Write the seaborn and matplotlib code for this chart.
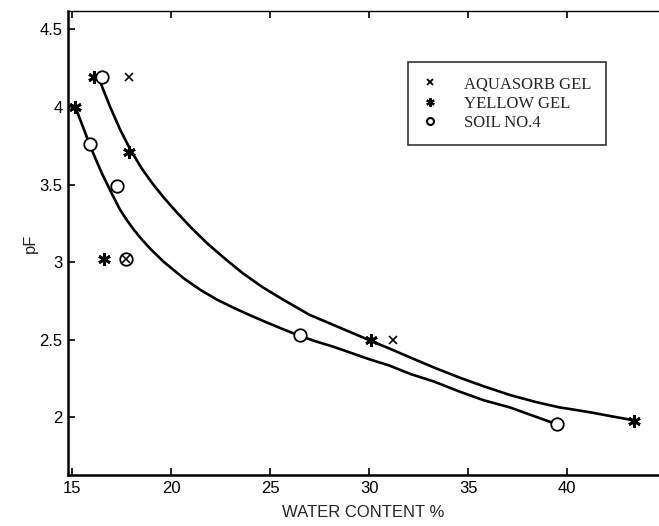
import matplotlib
matplotlib.use("Agg")
import matplotlib.pyplot as plt
import seaborn as sns
import pandas as pd
from matplotlib.lines import Line2D

# ---- data ----
aqua_x = [17.85, 17.7, 31.2]
aqua_y = [4.19, 3.02, 2.50]
yellow_x = [15.15, 16.1, 17.85, 16.6, 30.1, 43.4]
yellow_y = [4.00, 4.19, 3.71, 3.02, 2.50, 1.98]
soil_x = [16.5, 15.9, 17.25, 17.7, 26.5, 39.5]
soil_y = [4.19, 3.76, 3.49, 3.02, 2.53, 1.955]

# fitted curves
upper_x = [16.41, 16.9, 17.4, 17.93, 18.5, 19.0, 19.6, 20.3, 21.0, 21.8, 22.7, 23.6,
           24.6, 25.7, 27.0, 28.3, 29.5, 30.15, 31.0, 32.1, 33.3, 34.6, 35.8, 37.1,
           38.4, 39.6, 40.5, 41.3, 42.3, 43.3]
upper_y = [4.16, 4.003, 3.858, 3.725, 3.605, 3.515, 3.419, 3.318, 3.223, 3.123, 3.024, 2.93,
           2.84, 2.755, 2.66, 2.59, 2.525, 2.49, 2.445, 2.385, 2.32, 2.255, 2.20, 2.145,
           2.10, 2.065, 2.047, 2.030, 2.006, 1.983]
lower_x = [15.15, 15.48, 15.99, 16.5, 17.0, 17.4, 17.76, 18.1, 18.52, 18.95, 19.6,
           20.64, 21.5, 22.32, 23.2, 24.0, 24.8, 25.69, 26.53, 27.3, 28.2, 29.1, 30.0,
           31.0, 32.08, 33.3, 34.6, 35.8, 37.1, 38.3, 39.5]
lower_y = [4.00, 3.89, 3.72, 3.57, 3.44, 3.34, 3.27, 3.21, 3.145, 3.085, 3.004,
           2.895, 2.819, 2.758, 2.703, 2.657, 2.613, 2.566, 2.524, 2.49, 2.455, 2.415, 2.375,
           2.335, 2.28, 2.23, 2.165, 2.11, 2.065, 2.01, 1.955]

x_ticks = [15, 20, 25, 30, 35, 40]
y_ticks = [2, 2.5, 3, 3.5, 4, 4.5]
y_tick_labels = ["2", "2.5", "3", "3.5", "4", "4.5"]
legend_labels = ["AQUASORB GEL", "YELLOW GEL", "SOIL NO.4"]

sns.set_style("white")
plt.rcParams['font.family'] = ['Liberation Sans', 'DejaVu Sans']

fig = plt.figure(figsize=(6.59, 5.26), dpi=100)
ax = fig.add_axes([68/659, 1-475/526, 591/659, 464/526])

upper = pd.DataFrame({"x": upper_x, "y": upper_y})
lower = pd.DataFrame({"x": lower_x, "y": lower_y})
sns.lineplot(data=upper, x="x", y="y", sort=False, color="black", lw=1.9, ax=ax)
sns.lineplot(data=lower, x="x", y="y", sort=False, color="black", lw=1.9, ax=ax)

ax.plot(yellow_x, yellow_y, linestyle="none", marker=(6, 2, 0), ms=9, mew=2.0, color="black")
ax.plot(soil_x, soil_y, linestyle="none", marker="o", ms=9, mew=1.3, mfc="white", mec="black")
ax.plot(aqua_x, aqua_y, linestyle="none", marker="x", ms=6, mew=1.2, color="black")

ax.set_xlim(14.78, 44.65)
ax.set_ylim(1.629, 4.618)
ax.set_xticks(x_ticks)
ax.set_yticks(y_ticks)
ax.set_yticklabels(y_tick_labels)
ax.tick_params(direction="in", length=5, width=1.2, labelsize=12, colors="black",
               top=True, right=False, bottom=True, left=True, pad=4)
ax.set_xlabel("WATER CONTENT %", fontsize=12, labelpad=7)
ax.set_ylabel("pF", fontsize=12, labelpad=1)

for s in ["left", "bottom"]:
    ax.spines[s].set_linewidth(1.8)
    ax.spines[s].set_color("black")
ax.spines["top"].set_linewidth(1.0)
ax.spines["top"].set_color("black")
ax.spines["right"].set_visible(False)

handles = [
    Line2D([], [], linestyle="none", marker="x", ms=5, mew=1.3, color="black"),
    Line2D([], [], linestyle="none", marker=(6, 2, 0), ms=6, mew=1.6, color="black"),
    Line2D([], [], linestyle="none", marker="o", ms=5, mew=1.5, mfc="white", mec="black"),
]
leg = ax.legend(handles, legend_labels, loc="upper left", bbox_to_anchor=(0.575, 0.890),
                borderaxespad=0, frameon=True, fancybox=False, edgecolor="black",
                prop={"family": "Liberation Serif", "size": 12},
                handlelength=1.0, handletextpad=1.55, labelspacing=0.2, borderpad=0.85)
leg.get_frame().set_linewidth(1.2)

fig.savefig("out.png", dpi=100)
